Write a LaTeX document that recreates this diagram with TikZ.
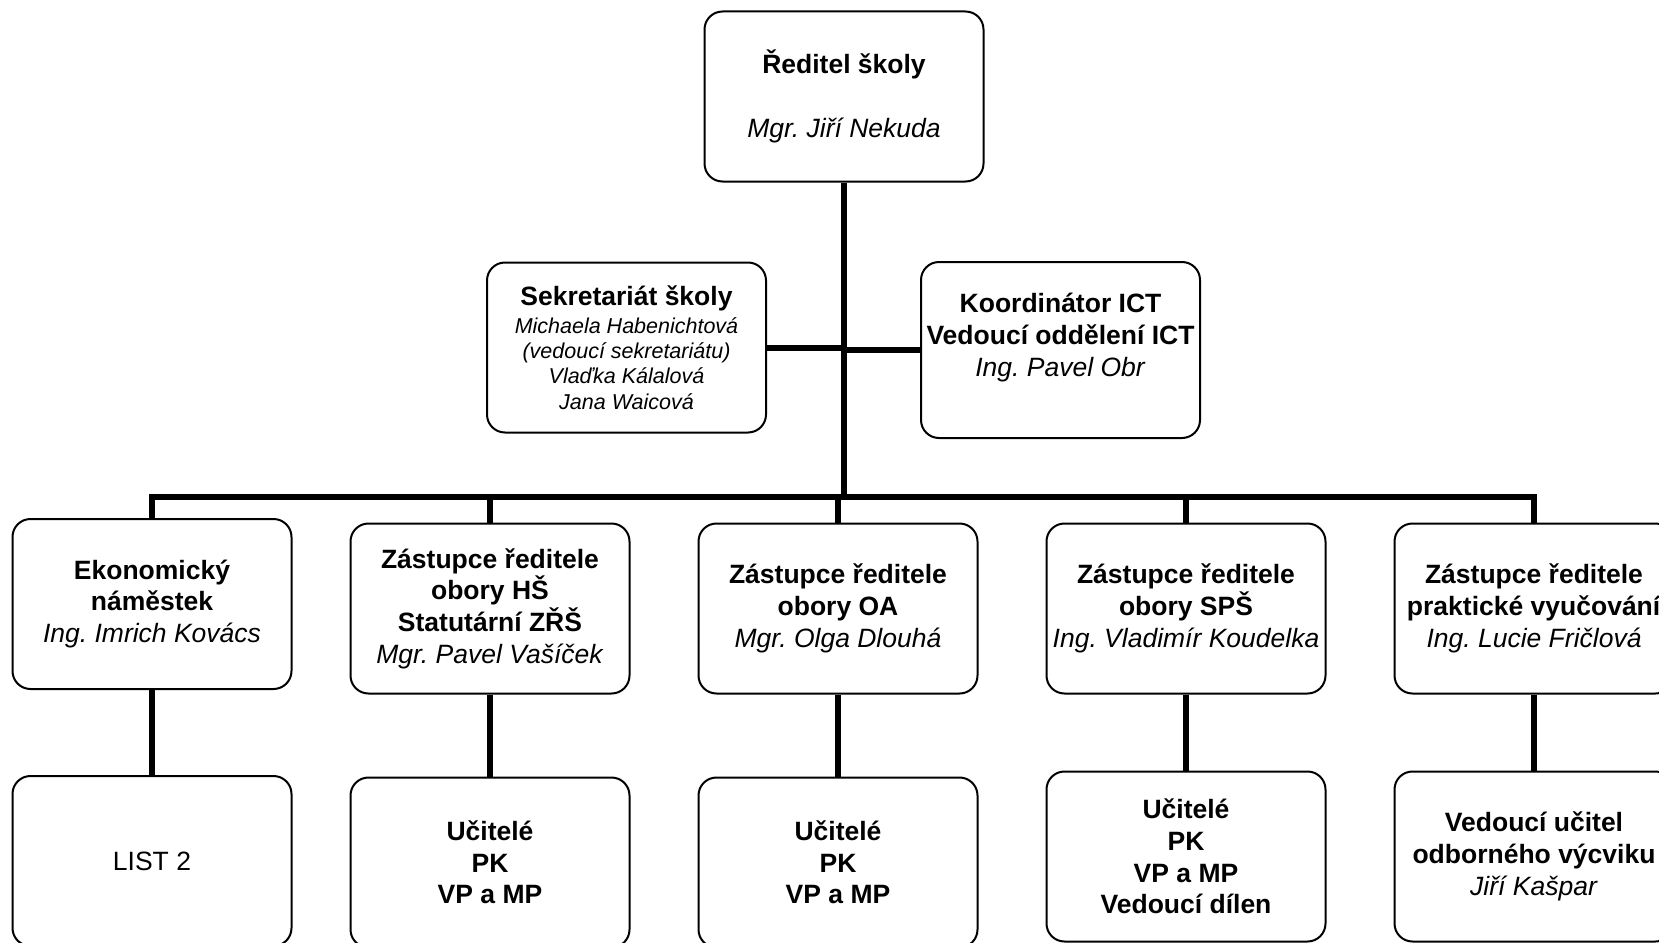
\documentclass[tikz,border=0pt]{standalone}
\usepackage{fontspec}
\setmainfont{Liberation Sans}
\usetikzlibrary{positioning}

\newcommand{\staffit}{\fontsize{21.5}{25.4}\selectfont\itshape}

\begin{document}
\frenchspacing
\begin{tikzpicture}[
            x=1pt, y=-1pt,
            node distance=67pt,
            every node/.style={font=\fontsize{26.5}{31.7}\selectfont},
            unit/.style={draw, line width=2pt, rounded corners=18pt, align=center,
                inner sep=0pt, minimum width=279pt, minimum height=170pt},
            link/.style={line width=6pt}
        ]
        \useasboundingbox (0,0) rectangle (1659,942);
        % top
        \node[unit] (dir) at (844,96.5) {\textbf{Ředitel školy}\\[\baselineskip]\textit{Mgr. Jiří Nekuda}};
        \node[unit] (sek) at (626.5,347.5) {\textbf{Sekretariát školy}\\[-4pt]
            \staffit Michaela Habenichtová\\[-6.3pt] \staffit (vedoucí sekretariátu)\\[-6.3pt]
            \staffit Vlaďka Kálalová\\[-6.3pt] \staffit Jana Waicová};
        \node[unit, minimum height=176pt] (ict) at (1060.5,350) {\textbf{Koordinátor ICT}\\
            \textbf{Vedoucí oddělení ICT}\\ \textit{Ing. Pavel Obr}\\[-10.6pt] \strut};
        \coordinate (bus) at (844,497);
        % deputies
        \node[unit] (e1) at (152,604) {\textbf{Ekonomický}\\ \textbf{náměstek}\\ \textit{Ing. Imrich Kovács}};
        \node[unit] (e2) at (490,608.5) {\textbf{Zástupce ředitele}\\ \textbf{obory HŠ}\\
            \textbf{Statutární ZŘŠ}\\ \textit{Mgr. Pavel Vašíček}};
        \node[unit] (e3) [right=of e2] {\textbf{Zástupce ředitele}\\ \textbf{obory OA}\\ \textit{Mgr. Olga Dlouhá}};
        \node[unit] (e4) [right=of e3] {\textbf{Zástupce ředitele}\\ \textbf{obory SPŠ}\\ \textit{Ing. Vladimír Koudelka}};
        \node[unit] (e5) [right=of e4] {\textbf{Zástupce ředitele}\\ \textbf{praktické vyučování}\\ \textit{Ing. Lucie Fričlová}};
        % staff
        \node[unit] (f1) [below=85pt of e1] {LIST 2};
        \node[unit] (f2) [below=82pt of e2] {\textbf{Učitelé}\\ \textbf{PK}\\ \textbf{VP a MP}};
        \node[unit] (f3) [below=82pt of e3] {\textbf{Učitelé}\\ \textbf{PK}\\ \textbf{VP a MP}};
        \node[unit] (f4) [below=76pt of e4] {\textbf{Učitelé}\\ \textbf{PK}\\ \textbf{VP a MP}\\ \textbf{Vedoucí dílen}};
        \node[unit] (f5) [below=76pt of e5] {\textbf{Vedoucí učitel}\\ \textbf{odborného výcviku}\\ \textit{Jiří Kašpar}};
        % lines
        \draw[link] (dir.south) -- (dir.south |- bus);
        \draw[link] (sek.east) -- (sek.east -| dir.south);
        \draw[link] (ict.west) -- (ict.west -| dir.south);
        \draw[link] (e1.north) -- (e1.north |- bus) -- (e5.north |- bus) -- (e5.north);
        \foreach \i in {2,3,4}
            \draw[link] (e\i.north) -- (e\i.north |- bus);
        \foreach \i in {1,...,5}
            \draw[link] (e\i.south) -- (f\i.north);
\end{tikzpicture}
\end{document}
